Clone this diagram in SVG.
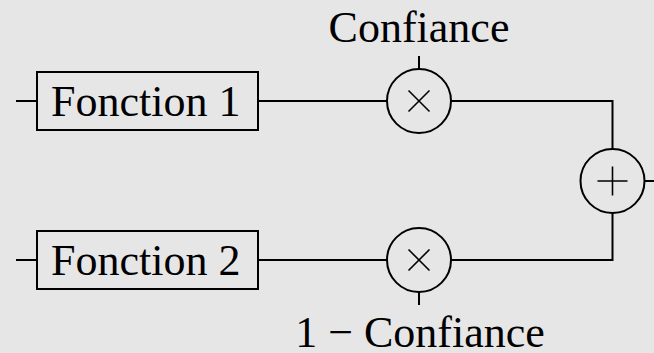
<svg xmlns="http://www.w3.org/2000/svg" width="654" height="353" viewBox="0 0 654 353">
  <style>
    .wire { fill: none; stroke: #000; stroke-width: 2; }
    .box { fill: none; stroke: #000; stroke-width: 2; }
    .op { fill: none; stroke: #000; stroke-width: 2; }
    .sym { fill: none; stroke: #000; stroke-width: 1.6; }
    .lbl { font-family: "Liberation Serif", "Times New Roman", serif; font-size: 44px; fill: #000; }
  </style>
  <rect width="654" height="353" fill="#e6e6e6"/>

  <g id="connectors">
    <!-- inputs -->
    <line class="wire" x1="16" y1="101" x2="37" y2="101"/>
    <line class="wire" x1="16" y1="260" x2="37" y2="260"/>
    <!-- functions to multipliers -->
    <line class="wire" x1="258" y1="101" x2="387" y2="101"/>
    <line class="wire" x1="258" y1="260" x2="387" y2="260"/>
    <!-- multipliers to adder -->
    <polyline class="wire" points="451,101 612.5,101 612.5,149"/>
    <polyline class="wire" points="451,260 612.5,260 612.5,213"/>
    <!-- weight inputs -->
    <line class="wire" x1="419" y1="56" x2="419" y2="69"/>
    <line class="wire" x1="419" y1="292" x2="419" y2="305"/>
    <!-- output -->
    <line class="wire" x1="644.5" y1="181" x2="654" y2="181"/>
  </g>

  <g id="f1">
    <rect class="box" x="37" y="72" width="221" height="58"/>
    <text class="lbl" x="51" y="116">Fonction 1</text>
  </g>

  <g id="f2">
    <rect class="box" x="37" y="231" width="221" height="58"/>
    <text class="lbl" x="51" y="275">Fonction 2</text>
  </g>

  <g id="mul1">
    <circle class="op" cx="419" cy="101" r="32"/>
    <path class="sym" d="M408.5 90.5 L429.5 111.5 M429.5 90.5 L408.5 111.5"/>
  </g>

  <g id="mul2">
    <circle class="op" cx="419" cy="260" r="32"/>
    <path class="sym" d="M408.5 249.5 L429.5 270.5 M429.5 249.5 L408.5 270.5"/>
  </g>

  <g id="sum">
    <circle class="op" cx="612.5" cy="181" r="32"/>
    <path class="sym" d="M597.5 181 L627.5 181 M612.5 166.5 L612.5 195.5"/>
  </g>

  <g id="w1">
    <text class="lbl" x="419" y="42" text-anchor="middle">Confiance</text>
  </g>

  <g id="w2">
    <text class="lbl" x="420" y="347" text-anchor="middle">1 − Confiance</text>
  </g>
</svg>
